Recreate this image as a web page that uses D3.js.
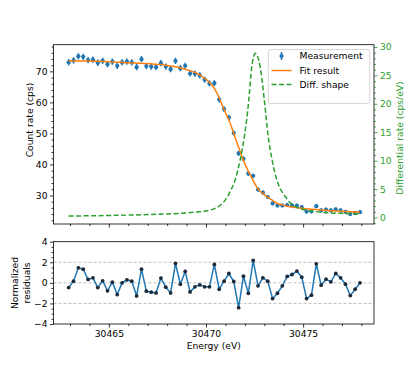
<!DOCTYPE html>
<html><head><meta charset="utf-8">
<script src="https://cdn.jsdelivr.net/npm/d3@7"></script>
<style>
body{margin:0;background:#fff}
svg{display:block}
text{font-family:"DejaVu Sans",sans-serif}
</style>
</head><body>
<svg id="c" width="416" height="370"></svg>
<script>
// ---------- data ----------
const energies = [30462.93,30463.18,30463.43,30463.68,30463.93,30464.18,30464.43,30464.68,30464.93,30465.18,
30465.43,30465.68,30465.93,30466.18,30466.43,30466.68,30466.93,30467.18,30467.43,30467.68,
30467.93,30468.18,30468.43,30468.68,30468.93,30469.18,30469.43,30469.68,30469.93,30470.18,
30470.43,30470.68,30470.93,30471.18,30471.43,30471.68,30471.93,30472.18,30472.43,30472.68,
30472.93,30473.18,30473.43,30473.68,30473.93,30474.18,30474.43,30474.68,30474.93,30475.18,
30475.43,30475.68,30475.93,30476.18,30476.43,30476.68,30476.93,30477.18,30477.43,30477.68,30477.93];
const counts = [72.93,73.54,74.85,74.70,73.65,73.78,72.77,73.40,72.32,73.12,
71.82,72.90,73.12,72.90,71.37,73.93,71.70,71.50,71.34,72.65,
71.55,70.72,73.38,71.02,71.82,69.32,69.27,68.70,67.31,66.12,
66.21,60.92,57.84,55.10,50.11,43.56,41.80,37.06,36.33,31.90,
30.92,29.50,27.43,26.77,26.77,26.93,26.79,26.74,26.21,24.80,
24.86,26.56,25.16,25.42,25.16,25.54,25.19,24.74,24.00,24.30,24.60];
const countErrors = [1.02,1.02,1.02,1.02,1.02,1.02,1.02,1.02,1.02,1.02,
1.02,1.02,1.02,1.02,1.01,1.01,1.01,1.01,1.01,1.01,
1.01,1.01,1.01,1.00,1.00,1.00,0.99,0.99,0.98,0.97,
0.96,0.93,0.90,0.88,0.84,0.80,0.77,0.73,0.70,0.67,
0.66,0.65,0.63,0.62,0.62,0.61,0.61,0.61,0.61,0.60,
0.60,0.60,0.60,0.60,0.60,0.60,0.59,0.59,0.59,0.59,0.59];
const fitValues = [73.40,73.38,73.36,73.34,73.31,73.28,73.24,73.20,73.12,73.05,
72.98,72.90,72.82,72.74,72.66,72.58,72.52,72.43,72.33,72.18,
71.97,71.72,71.47,71.15,70.70,70.20,69.65,68.90,67.70,66.50,
64.50,61.50,57.70,54.30,50.00,45.50,41.30,37.80,34.80,32.10,
30.60,29.40,28.40,27.40,26.95,26.55,26.30,26.05,25.88,25.72,
25.58,25.45,25.30,25.20,25.10,25.00,24.90,24.82,24.74,24.67,24.60];
const residuals = [-0.46,0.16,1.46,1.33,0.33,0.49,-0.46,0.20,-0.78,0.07,
-1.14,0.00,0.29,0.16,-1.27,1.33,-0.81,-0.91,-0.98,0.46,
-0.42,-0.98,1.89,-0.13,1.11,-0.88,-0.39,-0.20,-0.39,-0.39,
1.79,-0.62,0.16,0.91,0.13,-2.41,0.65,-1.01,2.18,-0.29,
0.49,0.16,-1.53,-1.01,-0.29,0.62,0.81,1.14,0.55,-1.53,
-1.20,1.85,-0.23,0.36,0.10,0.91,0.49,-0.13,-1.24,-0.62,0.00];
const diffEnergies = [30462.93,30464,30465,30466,30467,30468,30469,30469.5,30470,30470.5,
30470.75,30471,30471.25,30471.5,30471.75,30472,30472.2,30472.35,30472.45,30472.55,
30472.65,30472.8,30473,30473.2,30473.4,30473.6,30473.8,30474,30474.3,30474.6,
30475,30475.5,30476,30477,30477.93];
const diffValues = [0.25,0.3,0.35,0.42,0.5,0.62,0.8,0.95,1.15,1.65,
2.2,3.1,4.6,6.6,10.0,14.8,20.5,26.3,28.3,28.9,
28.4,26.3,20.8,14.3,10.2,7.2,5.2,4.1,2.7,1.95,
1.4,1.1,0.9,0.72,0.62];
const countTicks = [30,40,50,60,70];
const diffTicks = [0,5,10,15,20,25,30];
const residualTicks = [-4,-2,0,2,4];
const residualGrid = [-2,0,2];
const energyTicks = [30465,30470,30475];
const legendLabels = ["Measurement","Fit result","Diff. shape"];

// ---------- layout ----------
const BLUE="#1f77b4", ORANGE="#ff7f0e", GREEN="#2ca02c";
const FS="9.2px";
const P1={l:53.5,r:374,t:44.7,b:224};
const P2={l:53.5,r:374,t:241.7,b:324};
const svg=d3.select("#c");

const x1=d3.scaleLinear().domain([30462.15,30478.65]).range([P1.l,P1.r]);
const x2=d3.scaleLinear().domain([30462.15,30478.65]).range([P2.l,P2.r]);
const yL=d3.scaleLinear().domain([20.8,78.6]).range([P1.b,P1.t]);
const yR=d3.scaleLinear().domain([-1.15,30.4]).range([P1.b,P1.t]);
const yRes=d3.scaleLinear().domain([-4,4]).range([P2.b,P2.t]);

function styleAxis(g,color){
  g.selectAll("path").remove();
  g.selectAll("line").attr("stroke",color).attr("stroke-width",0.8);
  g.selectAll("text").attr("fill",color).style("font-size",FS).style("font-family","DejaVu Sans");
}
function minor(vals,majors){return vals.filter(v=>!majors.some(m=>Math.abs(m-v)<1e-6));}

// ---------- residual gridlines ----------
svg.append("g").selectAll("line").data(residualGrid).join("line")
  .attr("x1",P2.l).attr("x2",P2.r).attr("y1",d=>yRes(d)).attr("y2",d=>yRes(d))
  .attr("stroke","#b0b0b0").attr("stroke-width",0.8).attr("stroke-dasharray","3,2");

// ---------- top plot marks ----------
const gTop=svg.append("g");
gTop.append("g").selectAll("line").data(energies).join("line")
  .attr("x1",(d)=>x1(d)).attr("x2",(d)=>x1(d))
  .attr("y1",(d,i)=>yL(counts[i]-countErrors[i])).attr("y2",(d,i)=>yL(counts[i]+countErrors[i]))
  .attr("stroke",BLUE).attr("stroke-width",1.5);
gTop.append("g").selectAll("circle").data(energies).join("circle")
  .attr("cx",d=>x1(d)).attr("cy",(d,i)=>yL(counts[i])).attr("r",2.1).attr("fill",BLUE);
gTop.append("path").datum(energies)
  .attr("d",d3.line().x(d=>x1(d)).y((d,i)=>yL(fitValues[i])).curve(d3.curveMonotoneX))
  .attr("fill","none").attr("stroke",ORANGE).attr("stroke-width",1.5);
gTop.append("path").datum(diffEnergies)
  .attr("d",d3.line().x(d=>x1(d)).y((d,i)=>yR(diffValues[i])).curve(d3.curveMonotoneX))
  .attr("fill","none").attr("stroke",GREEN).attr("stroke-width",1.5).attr("stroke-dasharray","5,2.5");

// ---------- top plot axes ----------
const lMaj=svg.append("g").attr("transform",`translate(${P1.l},0)`)
  .call(d3.axisLeft(yL).tickValues(countTicks).tickSize(3.5).tickPadding(2.5));
styleAxis(lMaj,"#000");
const lMin=svg.append("g").attr("transform",`translate(${P1.l},0)`)
  .call(d3.axisLeft(yL).tickValues(minor(d3.range(22,79,2),countTicks)).tickSize(2).tickFormat(""));
styleAxis(lMin,"#000");
const rMaj=svg.append("g").attr("transform",`translate(${P1.r},0)`)
  .call(d3.axisRight(yR).tickValues(diffTicks).tickSize(3.5).tickPadding(2.5));
styleAxis(rMaj,GREEN);
const rMin=svg.append("g").attr("transform",`translate(${P1.r},0)`)
  .call(d3.axisRight(yR).tickValues(minor(d3.range(-1,31,1),diffTicks)).tickSize(2).tickFormat(""));
styleAxis(rMin,GREEN);
const bMaj1=svg.append("g").attr("transform",`translate(0,${P1.b})`)
  .call(d3.axisBottom(x1).tickValues(energyTicks).tickSize(3.5).tickFormat(""));
styleAxis(bMaj1,"#000");
const bMin1=svg.append("g").attr("transform",`translate(0,${P1.b})`)
  .call(d3.axisBottom(x1).tickValues(minor(d3.range(30463,30479,1),energyTicks)).tickSize(2).tickFormat(""));
styleAxis(bMin1,"#000");
svg.append("rect").attr("x",P1.l).attr("y",P1.t).attr("width",P1.r-P1.l).attr("height",P1.b-P1.t)
  .attr("fill","none").attr("stroke","#000").attr("stroke-width",0.8);

svg.append("text").attr("transform",`translate(33,120) rotate(-90)`).attr("text-anchor","middle")
  .style("font-size",FS).text("Count rate (cps)");
svg.append("text").attr("transform",`translate(403,138) rotate(-90)`).attr("text-anchor","middle")
  .attr("fill",GREEN).style("font-size",FS).text("Differential rate (cps/eV)");

// ---------- legend ----------
const lg=svg.append("g");
lg.append("rect").attr("x",268.3).attr("y",49.5).attr("width",101.5).attr("height",54).attr("rx",2.5)
  .attr("fill","#fff").attr("fill-opacity",0.8).attr("stroke","#cccccc").attr("stroke-width",0.8);
const rowY=[56,70.5,84.5];
lg.append("line").attr("x1",281.5).attr("x2",281.5).attr("y1",rowY[0]-4).attr("y2",rowY[0]+4)
  .attr("stroke",BLUE).attr("stroke-width",1.5);
lg.append("circle").attr("cx",281.5).attr("cy",rowY[0]).attr("r",2.1).attr("fill",BLUE);
lg.append("line").attr("x1",271.5).attr("x2",291.5).attr("y1",rowY[1]).attr("y2",rowY[1])
  .attr("stroke",ORANGE).attr("stroke-width",1.5);
lg.append("line").attr("x1",271.5).attr("x2",291.5).attr("y1",rowY[2]).attr("y2",rowY[2])
  .attr("stroke",GREEN).attr("stroke-width",1.5).attr("stroke-dasharray","5,2.5");
lg.selectAll("text.l").data(legendLabels).join("text").attr("class","l")
  .attr("x",299.5).attr("y",(d,i)=>rowY[i]).attr("dy","0.35em").style("font-size",FS).text(d=>d);

// ---------- residual plot ----------
svg.append("path").datum(energies)
  .attr("d",d3.line().x(d=>x2(d)).y((d,i)=>yRes(residuals[i])))
  .attr("fill","none").attr("stroke",BLUE).attr("stroke-width",1.5);
svg.append("g").selectAll("circle").data(energies).join("circle")
  .attr("cx",d=>x2(d)).attr("cy",(d,i)=>yRes(residuals[i])).attr("r",1.9).attr("fill","#1c2a3a");

const rl=svg.append("g").attr("transform",`translate(${P2.l},0)`)
  .call(d3.axisLeft(yRes).tickValues(residualTicks).tickSize(3.5).tickPadding(2.5).tickFormat(d=>d<0?"\u2212"+(-d):d));
styleAxis(rl,"#000");
const rlm=svg.append("g").attr("transform",`translate(${P2.l},0)`)
  .call(d3.axisLeft(yRes).tickValues(minor(d3.range(-4,4.01,0.5),residualTicks)).tickSize(2).tickFormat(""));
styleAxis(rlm,"#000");
const bx=svg.append("g").attr("transform",`translate(0,${P2.b})`)
  .call(d3.axisBottom(x2).tickValues(energyTicks).tickSize(3.5).tickPadding(2.5).tickFormat(d3.format("d")));
styleAxis(bx,"#000");
const bxm=svg.append("g").attr("transform",`translate(0,${P2.b})`)
  .call(d3.axisBottom(x2).tickValues(minor(d3.range(30463,30479,1),energyTicks)).tickSize(2).tickFormat(""));
styleAxis(bxm,"#000");
svg.append("rect").attr("x",P2.l).attr("y",P2.t).attr("width",P2.r-P2.l).attr("height",P2.b-P2.t)
  .attr("fill","none").attr("stroke","#000").attr("stroke-width",0.8);

svg.append("text").attr("x",(P2.l+P2.r)/2).attr("y",349).attr("text-anchor","middle")
  .style("font-size",FS).text("Energy (eV)");
const rlab=svg.append("text").attr("transform",`translate(18,283) rotate(-90)`).attr("text-anchor","middle")
  .style("font-size",FS);
rlab.append("tspan").attr("x",0).attr("dy",0).text("Normalized");
rlab.append("tspan").attr("x",0).attr("dy","1.25em").text("residuals");
</script>
</body></html>
